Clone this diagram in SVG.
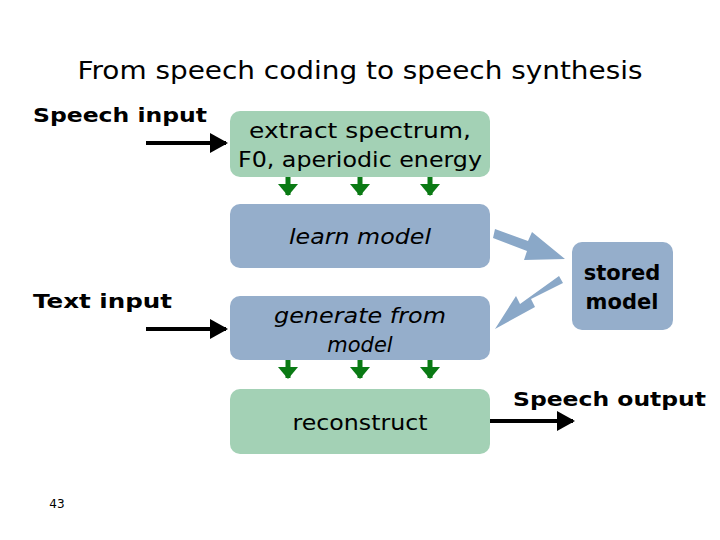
<svg xmlns="http://www.w3.org/2000/svg" width="720" height="540" viewBox="0 0 720 540">
<style>
text{font-family:"DejaVu Sans",Verdana,sans-serif;fill:#000}
.g{fill:#a3d1b5}.b{fill:#95aecb}
.t{font-size:21px;text-anchor:middle}
.h{font-size:20px;font-weight:bold}
.k{stroke:#000;stroke-width:4;fill:none}
.gr{stroke:#0a7a14;stroke-width:5}
</style>
<defs>
<marker id="ak" markerWidth="6" markerHeight="6" refX="4" refY="3" orient="auto" markerUnits="strokeWidth"><path d="M0,0.5 L4.5,3 L0,5.5 z" fill="#000"/></marker>
<marker id="ag" markerWidth="4" markerHeight="4" refX="2.2" refY="2" orient="auto" markerUnits="strokeWidth"><path d="M0,0 L2.4,2 L0,4 z" fill="#0a7a14"/></marker>
</defs>
<rect width="720" height="540" fill="#fff"/>
<text x="360" y="79" font-size="24" text-anchor="middle" textLength="565" lengthAdjust="spacingAndGlyphs">From speech coding to speech synthesis</text>
<text x="33" y="122" class="h" textLength="174" lengthAdjust="spacingAndGlyphs">Speech input</text>
<text x="33" y="308" class="h" textLength="139" lengthAdjust="spacingAndGlyphs">Text input</text>
<text x="513" y="406" class="h" textLength="193" lengthAdjust="spacingAndGlyphs">Speech output</text>
<text x="57" y="508" font-size="12" font-family="Liberation Sans,sans-serif" text-anchor="middle">43</text>
<g id="extract"><rect class="g" x="230" y="111" width="260" height="66" rx="10"/><text class="t" x="360" y="138" textLength="222" lengthAdjust="spacingAndGlyphs">extract spectrum,</text><text class="t" x="360" y="167" textLength="244" lengthAdjust="spacingAndGlyphs">F0, aperiodic energy</text></g>
<g id="learn"><rect class="b" x="230" y="204" width="260" height="64" rx="10"/><text class="t" x="360" y="244" font-style="italic" textLength="142" lengthAdjust="spacingAndGlyphs">learn model</text></g>
<g id="generate"><rect class="b" x="230" y="296" width="260" height="64" rx="10"/><text class="t" x="360" y="323" font-style="italic" textLength="172" lengthAdjust="spacingAndGlyphs">generate from</text><text class="t" x="360" y="352" font-style="italic">model</text></g>
<g id="reconstruct"><rect class="g" x="230" y="389" width="260" height="65" rx="10"/><text class="t" x="360" y="430" textLength="135" lengthAdjust="spacingAndGlyphs">reconstruct</text></g>
<g id="stored"><rect class="b" x="572" y="242" width="101" height="88" rx="10"/><text class="t" x="622" y="280" font-weight="bold">stored</text><text class="t" x="622" y="309" font-weight="bold">model</text></g>
<g id="connectors">
<line class="k" x1="146" y1="143" x2="226" y2="143" marker-end="url(#ak)"/>
<line class="k" x1="146" y1="329" x2="226" y2="329" marker-end="url(#ak)"/>
<line class="k" x1="490" y1="421" x2="573" y2="421" marker-end="url(#ak)"/>
<g class="gr" marker-end="url(#ag)">
<line x1="288" y1="177" x2="288" y2="195"/><line x1="360" y1="177" x2="360" y2="195"/><line x1="430" y1="177" x2="430" y2="195"/>
<line x1="288" y1="360" x2="288" y2="378"/><line x1="360" y1="360" x2="360" y2="378"/><line x1="430" y1="360" x2="430" y2="378"/>
</g>
<polygon fill="#8aa8c8" points="495,229 528,241 532,232 565,259 524,260 527,251 493,238"/>
<polygon fill="#8aa8c8" points="563,283 531,299 535,307 495,329 516,296 520,304 559,276"/>
</g>
</svg>
